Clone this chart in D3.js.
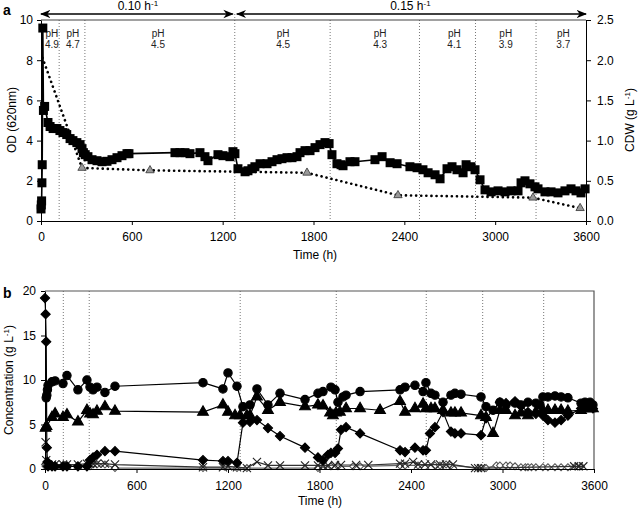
<!DOCTYPE html>
<html><head><meta charset="utf-8">
<script src="https://cdn.jsdelivr.net/npm/d3@7"></script>
<style>
body{margin:0;background:#fff;}
svg{font-family:"Liberation Sans",Arial,sans-serif;}
</style></head>
<body><svg id="c" width="638" height="510"></svg>
<script>
// ---------- DATA ----------
const xTicks = [0, 600, 1200, 1800, 2400, 3000, 3600];
const odTicks = [0, 2, 4, 6, 8, 10];
const cdwTicks = [0, 0.5, 1.0, 1.5, 2.0, 2.5];
const concTicks = [0, 5, 10, 15, 20];
const phChangeTimes = [120, 290, 1280, 1910, 2500, 2870, 3270];
const phLabels = ["4.9", "4.7", "4.5", "4.5", "4.3", "4.1", "3.9", "3.7"];
const phLabelTimes = [72, 211, 773, 1600, 2240, 2730, 3070, 3450];
const dilutionLabels = ["0.10", "0.15"];
const dilutionStarts = [0, 1280];
const dilutionEnds = [1280, 3600];

const odSeries = [[0,0.6],[2,0.8],[4,1.0],[6,1.9],[8,2.8],[12,9.6],[16,5.5],[24,5.7],[46,4.9],[60,4.7],[80,4.6],[105,4.6],[125,4.5],[145,4.4],[170,4.3],[192,4.1],[211,4.0],[237,3.9],[258,3.8],[271,3.6],[280,3.4],[292,3.3],[310,3.2],[337,3.05],[370,3.0],[403,2.95],[436,2.97],[469,3.05],[502,3.15],[535,3.25],[568,3.35],[581,3.35],[885,3.4],[918,3.4],[951,3.4],[984,3.35],[1050,3.4],[1083,3.2],[1103,3.0],[1169,3.3],[1202,3.25],[1248,3.2],[1268,3.45],[1281,3.35],[1301,2.6],[1348,2.45],[1367,2.5],[1393,2.6],[1413,2.7],[1447,2.85],[1493,2.85],[1526,2.95],[1559,3.05],[1592,3.1],[1625,3.15],[1658,3.15],[1691,3.2],[1711,3.4],[1744,3.5],[1777,3.5],[1810,3.65],[1843,3.8],[1876,3.9],[1903,3.85],[1922,3.3],[1955,2.85],[1982,2.8],[1995,2.75],[2041,2.95],[2074,2.95],[2206,3.05],[2253,3.2],[2306,2.9],[2352,2.85],[2437,2.7],[2484,2.65],[2523,2.55],[2557,2.4],[2603,2.3],[2636,2.1],[2682,2.6],[2715,2.7],[2748,2.55],[2788,2.4],[2808,2.8],[2840,2.7],[2867,2.55],[2900,2.05],[2933,1.55],[2973,1.45],[3019,1.5],[3065,1.45],[3105,1.5],[3151,1.5],[3171,1.9],[3197,2.0],[3230,1.85],[3263,1.7],[3283,1.6],[3329,1.45],[3369,1.45],[3415,1.4],[3461,1.5],[3501,1.6],[3534,1.5],[3567,1.4],[3594,1.6]];
const cdwSeries = [[10,2.03],[271,0.66],[720,0.63],[1757,0.6],[2358,0.32],[3250,0.29],[3561,0.16]];

const circleSeries = [[8,8.0],[12,8.3],[16,8.9],[20,9.4],[46,9.8],[66,9.9],[118,9.6],[144,10.5],[216,8.9],[275,10.0],[295,9.2],[315,8.9],[341,9.2],[393,8.6],[459,9.3],[1036,9.7],[1167,9.0],[1200,10.8],[1259,9.3],[1298,7.0],[1344,7.2],[1390,9.0],[1462,7.2],[1541,8.5],[1705,7.8],[1790,8.5],[1823,8.7],[1875,9.2],[1902,8.9],[1921,7.5],[1954,8.1],[1974,8.3],[2066,8.7],[2328,8.9],[2361,9.2],[2426,9.4],[2479,8.7],[2498,9.7],[2531,8.5],[2557,8.3],[2610,7.5],[2662,8.3],[2688,8.5],[2728,8.4],[2859,8.1],[2892,7.0],[2938,6.6],[2983,7.5],[3023,7.2],[3082,7.4],[3121,7.2],[3167,7.5],[3219,7.4],[3246,7.2],[3265,8.1],[3298,8.1],[3344,8.2],[3384,8.1],[3429,8.0],[3515,7.4],[3541,7.5],[3574,7.5],[3593,7.2]];
const triangleSeries = [[4,4.6],[10,4.8],[46,5.8],[66,6.2],[118,5.8],[144,6.1],[216,5.3],[275,6.6],[295,6.2],[315,6.1],[341,6.5],[393,7.0],[459,6.5],[1036,6.4],[1167,7.2],[1200,6.4],[1246,6.0],[1279,6.0],[1324,6.0],[1344,6.0],[1390,8.1],[1462,6.6],[1541,7.5],[1705,7.0],[1790,7.2],[1823,7.1],[1869,6.3],[1888,6.0],[1908,6.3],[1934,6.4],[1974,6.8],[2066,6.8],[2197,6.6],[2328,7.6],[2361,6.4],[2426,6.8],[2479,7.3],[2498,6.8],[2531,6.8],[2557,6.8],[2610,6.6],[2662,6.3],[2688,6.3],[2728,6.3],[2859,6.0],[2892,5.8],[2938,4.0],[2983,6.6],[3023,6.6],[3082,6.0],[3121,6.3],[3167,6.0],[3219,6.4],[3265,6.6],[3298,6.6],[3344,6.6],[3384,6.6],[3429,6.5],[3515,6.6],[3541,6.8],[3574,6.8],[3593,6.8]];
const diamondSeries = [[0,19.2],[4,17.4],[8,14.3],[12,2.4],[16,0.8],[20,0.3],[46,0.3],[66,0.3],[118,0.3],[144,0.3],[216,0.3],[275,0.3],[295,1.0],[315,1.3],[341,1.6],[393,2.0],[459,2.0],[1036,1.0],[1167,0.9],[1200,0.9],[1259,0.7],[1298,5.2],[1344,5.3],[1390,5.5],[1462,4.6],[1541,3.7],[1705,2.4],[1790,1.3],[1823,1.0],[1856,1.6],[1875,1.8],[1902,1.8],[1921,2.3],[1941,4.4],[1974,4.7],[2066,4.0],[2328,2.1],[2361,1.9],[2426,2.4],[2479,2.1],[2498,2.1],[2524,4.0],[2557,4.7],[2610,6.4],[2662,4.2],[2688,4.0],[2728,4.0],[2859,3.8],[2892,5.7],[2983,7.5],[3023,7.4],[3082,7.6],[3121,7.1],[3167,6.4],[3219,6.2],[3265,6.0],[3298,5.5],[3344,5.2],[3384,5.5],[3429,6.0],[3515,6.8],[3541,7.0],[3574,7.0],[3593,6.8]];
const crossSeries = [[4,3.0],[8,1.0],[20,0.5],[46,0.5],[66,0.5],[118,0.5],[144,0.5],[216,0.5],[275,0.6],[295,0.6],[315,0.6],[341,0.6],[393,0.6],[459,0.5],[1036,0.2],[1167,0.2],[1200,0.3],[1259,0.2],[1324,0.1],[1390,0.8],[1462,0.4],[1541,0.4],[1705,0.4],[1790,0.4],[1823,0.4],[1856,0.4],[1902,0.45],[1941,0.45],[2040,0.45],[2120,0.45],[2328,0.6],[2361,0.6],[2414,0.8],[2446,0.5],[2492,0.5],[2531,0.5],[2590,0.5],[2630,0.5],[2675,0.5],[2820,0.1],[2840,0.1],[2859,0.1],[3470,0.3],[3500,0.3],[3530,0.3]];
const openDiamondSeries = [[0,0.5],[4,0.3],[46,0.3],[66,0.3],[118,0.3],[144,0.3],[216,0.3],[275,0.3],[295,0.3],[315,0.5],[341,0.5],[393,0.5],[459,0.1],[1036,0.1],[1259,0.1],[1324,0.1],[1790,0.1],[1875,0.3],[1921,0.3],[2020,0.3],[2066,0.3],[2328,0.4],[2361,0.4],[2446,0.4],[2557,0.4],[2590,0.4],[2630,0.5],[2662,0.4],[2859,0.1],[2892,0.1],[2960,0.4],[2983,0.4],[3023,0.4],[3050,0.4],[3082,0.3],[3121,0.2],[3150,0.2],[3167,0.2],[3190,0.2],[3219,0.2],[3265,0.2],[3298,0.2],[3344,0.2],[3384,0.2],[3429,0.2],[3480,0.3],[3515,0.3]];

// ---------- DRAW ----------
const svg = d3.select("#c");
const FS = "12px";
const fmtInt = d3.format("d");

function styleAxis(g){
  g.selectAll("path.domain").attr("stroke","#000").attr("stroke-width",1);
  g.selectAll(".tick line").attr("stroke","#000");
  g.selectAll(".tick text").attr("fill","#000").style("font-size",FS).style("font-family","'Liberation Sans',Arial,sans-serif");
}

// ===== Panel a =====
const xA = d3.scaleLinear().domain([0,3600]).range([41,586]);
const yA = d3.scaleLinear().domain([0,10]).range([221,20]);
const yA2 = d3.scaleLinear().domain([0,2.5]).range([221,20]);

svg.append("g").selectAll("line").data(phChangeTimes).join("line")
  .attr("x1",d=>xA(d)).attr("x2",d=>xA(d))
  .attr("y1",d=>d===1280?yA(10)-6:yA(10)).attr("y2",yA(0))
  .attr("stroke","#777").attr("stroke-width",1).attr("stroke-dasharray","1,2");

svg.append("line").attr("x1",xA(0)).attr("x2",xA(3600)).attr("y1",yA(10)).attr("y2",yA(10))
  .attr("stroke","#444").attr("stroke-width",1.2);

const phG = svg.append("g").style("font-size","10px").attr("fill","#222").attr("text-anchor","middle");
phLabelTimes.forEach((t,i)=>{
  phG.append("text").attr("x",xA(t)).attr("y",37).text("pH");
  phG.append("text").attr("x",xA(t)).attr("y",48).text(phLabels[i]);
});

const defs = svg.append("defs");
defs.append("marker").attr("id","ah").attr("viewBox","0 0 10 10").attr("refX",9).attr("refY",5)
  .attr("markerWidth",7).attr("markerHeight",7).attr("orient","auto-start-reverse")
  .append("path").attr("d","M0,1 L10,5 L0,9 L3,5 Z").attr("fill","#000");
dilutionStarts.forEach((s,i)=>{
  const x1 = xA(s) + (i===1?2:0), x2 = xA(dilutionEnds[i]) - (i===0?2:0);
  svg.append("line").attr("x1",x1).attr("x2",x2).attr("y1",14).attr("y2",14)
    .attr("stroke","#000").attr("stroke-width",1.5)
    .attr("marker-start","url(#ah)").attr("marker-end","url(#ah)");
  const tx = svg.append("text").attr("x",(xA(s)+xA(dilutionEnds[i]))/2).attr("y",10)
    .attr("text-anchor","middle").style("font-size",FS);
  tx.append("tspan").text(dilutionLabels[i]+" h");
  tx.append("tspan").attr("dy",-4).style("font-size","8px").text("-1");
});

svg.append("path").datum(cdwSeries)
  .attr("d",d3.line().x(d=>xA(d[0])).y(d=>yA2(d[1])))
  .attr("fill","none").attr("stroke","#000").attr("stroke-width",2.6)
  .attr("stroke-linecap","round").attr("stroke-dasharray","0.1,5");
svg.append("g").selectAll("path").data(cdwSeries.slice(1)).join("path")
  .attr("transform",d=>`translate(${xA(d[0])},${yA2(d[1])})`)
  .attr("d",d3.symbol(d3.symbolTriangle,30))
  .attr("fill","#999").attr("stroke","#333").attr("stroke-width",0.8);

svg.append("path").datum(odSeries)
  .attr("d",d3.line().x(d=>xA(d[0])).y(d=>yA(d[1])))
  .attr("fill","none").attr("stroke","#000").attr("stroke-width",1.6);
svg.append("g").selectAll("rect").data(odSeries).join("rect")
  .attr("x",d=>xA(d[0])-4.5).attr("y",d=>yA(d[1])-4.5).attr("width",9).attr("height",9)
  .attr("fill","#000");

svg.append("g").attr("transform","translate(0,221)")
  .call(d3.axisBottom(xA).tickValues(xTicks).tickFormat(fmtInt).tickSize(4).tickPadding(7).tickSizeOuter(0)).call(styleAxis);
svg.append("g").attr("transform","translate(41,0)")
  .call(d3.axisLeft(yA).tickValues(odTicks).tickFormat(fmtInt).tickSize(4).tickPadding(4).tickSizeOuter(0)).call(styleAxis);
svg.append("g").attr("transform","translate(586,0)")
  .call(d3.axisRight(yA2).tickValues(cdwTicks).tickFormat(d3.format(".1f")).tickSize(5).tickPadding(6).tickSizeOuter(0)).call(styleAxis);

svg.append("text").attr("x",315).attr("y",259).attr("text-anchor","middle").style("font-size",FS).text("Time (h)");
svg.append("text").attr("transform","translate(16,120) rotate(-90)").attr("text-anchor","middle").style("font-size",FS).text("OD (620nm)");
const cdwT = svg.append("text").attr("transform","translate(634,120) rotate(-90)").attr("text-anchor","middle").style("font-size",FS);
cdwT.append("tspan").text("CDW (g L");
cdwT.append("tspan").attr("dy",-4).style("font-size","8px").text("-1");
cdwT.append("tspan").attr("dy",4).text(")");
svg.append("text").attr("x",3).attr("y",15).style("font-size","14px").style("font-weight","bold").text("a");

// ===== Panel b =====
const xB = d3.scaleLinear().domain([0,3600]).range([45,594]);
const yB = d3.scaleLinear().domain([0,20]).range([469,291]);

svg.append("g").selectAll("line").data(phChangeTimes).join("line")
  .attr("x1",d=>xB(d)).attr("x2",d=>xB(d)).attr("y1",yB(20)).attr("y2",yB(0))
  .attr("stroke","#777").attr("stroke-width",1).attr("stroke-dasharray","1,2");
svg.append("path").attr("d",`M${xB(0)},${yB(20)}H${xB(3600)}V${yB(0)}`)
  .attr("fill","none").attr("stroke","#555").attr("stroke-width",1.2);

const lineB = d3.line().x(d=>xB(d[0])).y(d=>yB(d[1]));
function drawSeries(data, symType, size, fill, stroke, lineColor, rot){
  svg.append("path").datum(data).attr("d",lineB).attr("fill","none")
    .attr("stroke",lineColor).attr("stroke-width",1.2);
  svg.append("g").selectAll("path").data(data).join("path")
    .attr("transform",d=>`translate(${xB(d[0])},${yB(d[1])}) rotate(${rot||0})`)
    .attr("d",d3.symbol(symType,size))
    .attr("fill",fill).attr("stroke",stroke).attr("stroke-width",1.1);
}
drawSeries(openDiamondSeries, d3.symbolSquare, 24, "#fff", "#555", "#666", 45);
drawSeries(crossSeries, d3.symbolTimes, 45, "none", "#222", "#333");
drawSeries(diamondSeries, d3.symbolSquare, 42, "#000", "#000", "#000", 45);
drawSeries(triangleSeries, d3.symbolTriangle, 50, "#000", "#000", "#000");
drawSeries(circleSeries, d3.symbolCircle, 55, "#000", "#000", "#000");

svg.append("g").attr("transform","translate(0,469)")
  .call(d3.axisBottom(xB).tickValues(xTicks).tickFormat(fmtInt).tickSize(4).tickPadding(8).tickSizeOuter(0)).call(styleAxis);
svg.append("g").attr("transform","translate(45,0)")
  .call(d3.axisLeft(yB).tickValues(concTicks).tickFormat(fmtInt).tickSize(4).tickPadding(5).tickSizeOuter(0)).call(styleAxis);

svg.append("text").attr("x",320).attr("y",505).attr("text-anchor","middle").style("font-size",FS).text("Time (h)");
const cT = svg.append("text").attr("transform","translate(13,380) rotate(-90)").attr("text-anchor","middle").style("font-size",FS);
cT.append("tspan").text("Concentration (g L");
cT.append("tspan").attr("dy",-4).style("font-size","8px").text("-1");
cT.append("tspan").attr("dy",4).text(")");
svg.append("text").attr("x",3).attr("y",298).style("font-size","14px").style("font-weight","bold").text("b");
</script></body></html>
